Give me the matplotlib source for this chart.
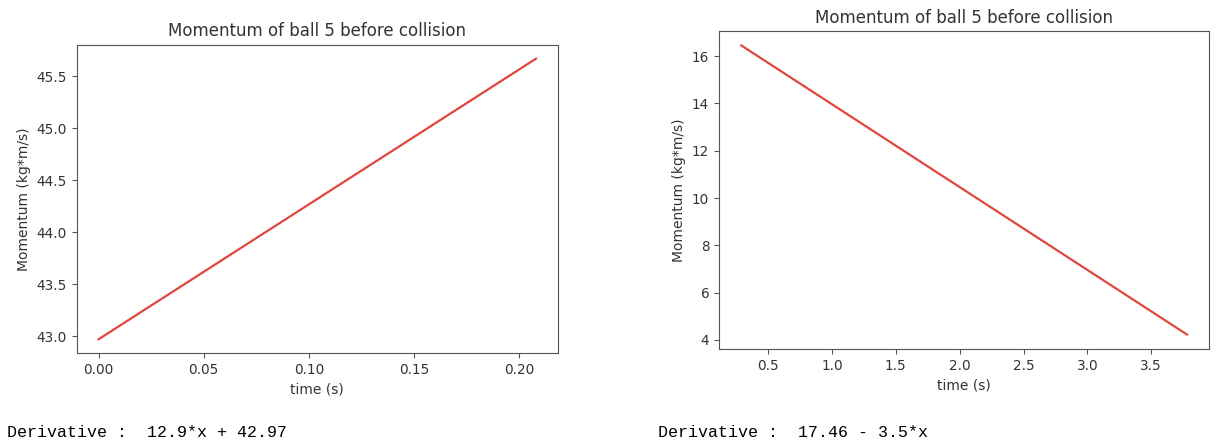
import matplotlib
matplotlib.use('Agg')
import matplotlib.pyplot as plt

# ball 5, first run
time_a = [0.0, 0.208]
momentum_a = [42.97, 45.67]
derivative_a = 'Derivative :  12.9*x + 42.97'

# ball 5, second run
time_b = [0.29, 3.78]
momentum_b = [16.45, 4.23]
derivative_b = 'Derivative :  17.46 - 3.5*x'

title = 'Momentum of ball 5 before collision'
line_color = '#e0473c'
text_color = '#333333'

plt.rcParams['font.family'] = 'DejaVu Sans'
plt.rcParams['axes.edgecolor'] = '#555555'
plt.rcParams['xtick.color'] = '#555555'
plt.rcParams['ytick.color'] = '#555555'
plt.rcParams['xtick.labelcolor'] = text_color
plt.rcParams['ytick.labelcolor'] = text_color

fig = plt.figure(figsize=(12.16, 4.41), dpi=100)

ax1 = fig.add_axes([0.0631, 0.1989, 0.3956, 0.6998])
ax2 = fig.add_axes([0.5913, 0.2086, 0.4032, 0.7211])

for ax, t, p in [(ax1, time_a, momentum_a), (ax2, time_b, momentum_b)]:
    ax.plot(t, p, color=line_color, linewidth=1.6)
    ax.set_title(title, fontsize=12, color=text_color)
    ax.set_xlabel('time (s)', fontsize=10, color=text_color)
    ax.set_ylabel('Momentum (kg*m/s)', fontsize=10, color=text_color)
    ax.tick_params(labelsize=9.8)

fig.text(0.006, 0.02, derivative_a, family='Liberation Mono', fontsize=12,
         color='black', va='center')
fig.text(0.541, 0.02, derivative_b, family='Liberation Mono', fontsize=12,
         color='black', va='center')

fig.savefig('out.png', dpi=100)
